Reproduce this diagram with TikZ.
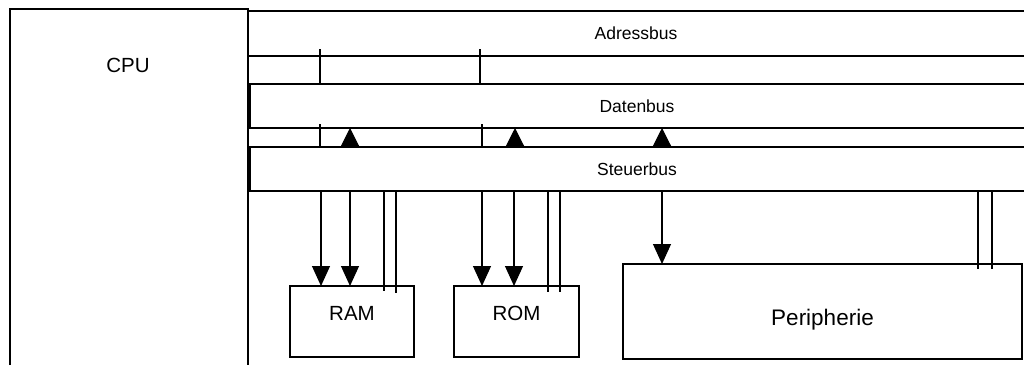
\documentclass[tikz,border=0pt]{standalone}
\usepackage{fontspec}
\setmainfont{Liberation Sans}
\usetikzlibrary{arrows.meta,calc}
\begin{document}
\begin{tikzpicture}[x=1pt,y=-1pt,line width=1.1pt,
  busarea/.style={draw=none,outer sep=0pt,inner sep=0pt,font=\fontsize{17.5}{20}\selectfont},
  unitbox/.style={draw,outer sep=0pt,inner sep=0pt},
  lbl/.style={font=\fontsize{20.5}{24}\selectfont,inner sep=0pt},
  arr/.style={-{Triangle[width=18pt,length=20pt]}},
  uparr/.style={-{Triangle[width=19pt,length=19pt]}}]
\useasboundingbox (0,0) rectangle (1024,365);
% CPU (open at the bottom)
\coordinate (cpubl) at (10,365);
\coordinate (cpubr) at (248,365);
\draw (cpubl) -- (10,9) -- (248,9) -- (cpubr);
\node[lbl] (cpu) at (128,65) {CPU};
% buses (open to the right)
\node[busarea,minimum width=776pt,minimum height=45pt] (ab) at (636,33.5) {Adressbus};
\node[busarea,minimum width=774pt,minimum height=44pt] (db) at (637,106) {Datenbus};
\node[busarea,minimum width=774pt,minimum height=44pt] (sb) at (637,169) {Steuerbus};
\draw (ab.north west) -- (ab.north east);
\draw (ab.south west) -- (ab.south east);
\draw (db.north east) -- (db.north west) -- (db.south west) -- (db.south east);
\draw (sb.north east) -- (sb.north west) -- (sb.south west) -- (sb.south east);
% units
\node[unitbox,minimum width=124pt,minimum height=71pt] (ram) at (352,321.5) {};
\node[lbl] at ([yshift=8.5pt]ram.center) {RAM};
\node[unitbox,minimum width=125pt,minimum height=71pt] (rom) at (516.5,321.5) {};
\node[lbl] at ([yshift=8.5pt]rom.center) {ROM};
\node[unitbox,minimum width=399pt,minimum height=95pt] (per) at (822.5,311.5) {};
\node[lbl,font=\fontsize{22.5}{26}\selectfont] at ([yshift=-8.5pt]per.center) {Peripherie};
% address lines crossing the buses
\draw (320,49) -- (320,0 |- db.north);
\draw (480,49) -- (480,0 |- db.north);
\draw (320,124) -- (320,0 |- sb.north);
\draw (482,124) -- (482,0 |- sb.north);
% data arrowheads into the data bus
\draw[uparr] (350,0 |- sb.north) -- (350,0 |- db.south);
\draw[uparr] (515,0 |- sb.north) -- (515,0 |- db.south);
\draw[uparr] (662,0 |- sb.north) -- (662,0 |- db.south);
% lines to RAM
\draw[arr] (321,0 |- sb.south) -- (321,0 |- ram.north);
\draw[arr] (350,0 |- sb.south) -- (350,0 |- ram.north);
\draw (384,0 |- sb.south) -- ($(384,0 |- ram.north)+(0,5)$);
\draw (396,0 |- sb.south) -- ($(396,0 |- ram.north)+(0,7)$);
% lines to ROM
\draw[arr] (482,0 |- sb.south) -- (482,0 |- rom.north);
\draw[arr] (514,0 |- sb.south) -- (514,0 |- rom.north);
\draw (548,0 |- sb.south) -- ($(548,0 |- rom.north)+(0,6)$);
\draw (560,0 |- sb.south) -- ($(560,0 |- rom.north)+(0,6)$);
% lines to Peripherie
\draw[arr] (662,0 |- sb.south) -- (662,0 |- per.north);
\draw (978,0 |- sb.south) -- ($(978,0 |- per.north)+(0,5)$);
\draw (992,0 |- sb.south) -- ($(992,0 |- per.north)+(0,5)$);
\end{tikzpicture}
\end{document}
